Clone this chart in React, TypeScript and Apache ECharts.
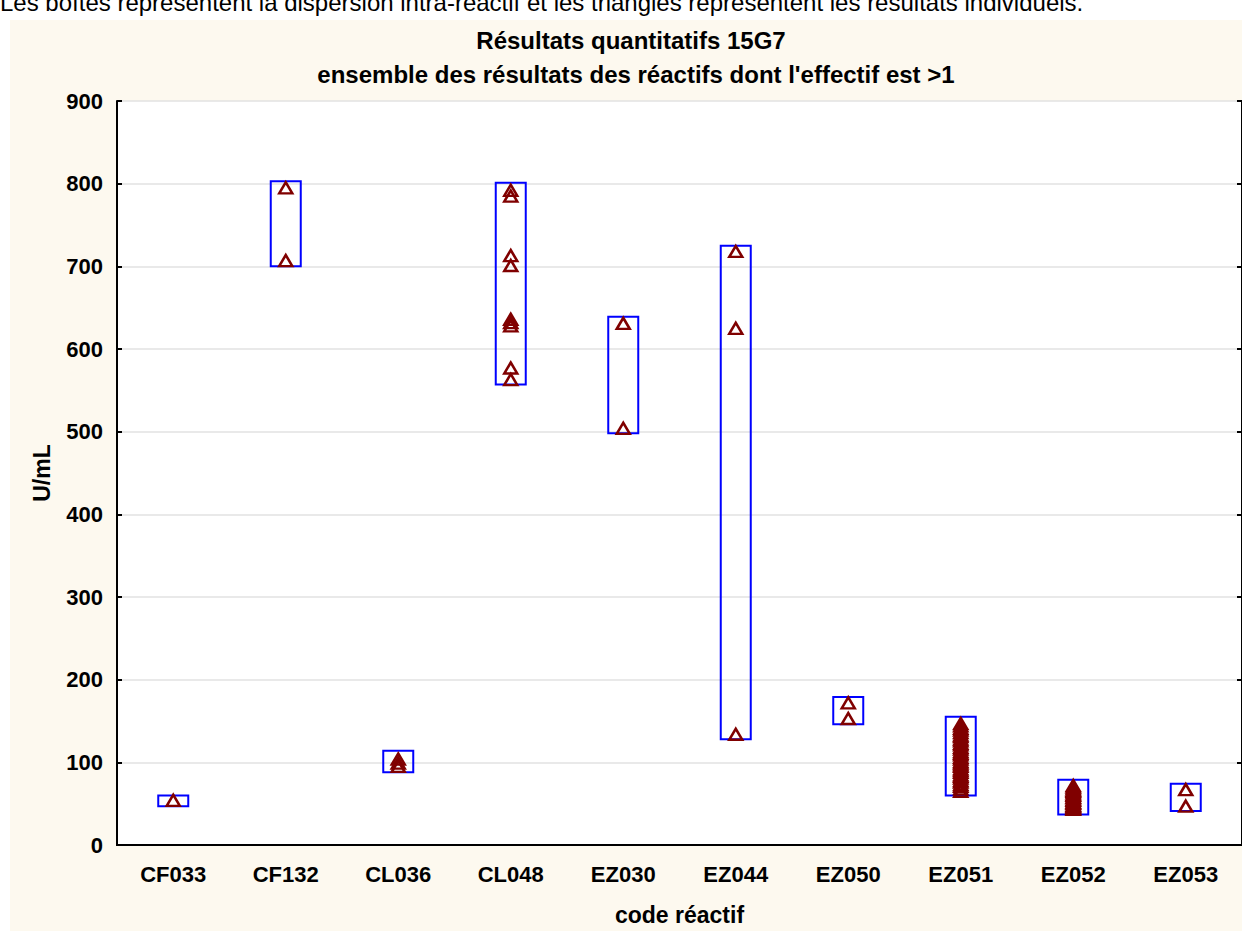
import React, { useEffect, useRef } from "react";
import * as echarts from "echarts";

const categories = ["CF033", "CF132", "CL036", "CL048", "EZ030", "EZ044", "EZ050", "EZ051", "EZ052", "EZ053"];
const yTicks = { min: 0, max: 900, interval: 100 };

// box (dispersion intra-réactif): low / high per category
const boxLow = [47, 700, 88, 557, 498, 128, 146, 60, 37, 41];
const boxHigh = [60, 803, 114, 801, 639, 725, 179, 155, 79, 74];

// individual results
const ptsCF033 = [54];
const ptsCF132 = [795, 707];
const ptsCL036 = [104, 99, 95];
const ptsCL048 = [792, 785, 713, 701, 636, 632, 628, 577, 563];
const ptsEZ030 = [631, 504];
const ptsEZ044 = [718, 625, 134];
const ptsEZ050 = [172, 153];
const ptsEZ051 = [147, 144, 141, 139, 136, 133, 131, 128, 126, 123, 121, 118, 116, 113, 111, 109, 106, 104, 101, 99, 97, 95, 92, 90, 88, 85, 83, 81, 78, 76, 73, 71, 68, 65];
const ptsEZ052 = [72, 70, 68, 66, 65, 63, 61, 60, 58, 57, 55, 54, 52, 51, 50, 48, 47, 46, 45, 44, 43];
const ptsEZ053 = [67, 47];

const allPoints = [ptsCF033, ptsCF132, ptsCL036, ptsCL048, ptsEZ030, ptsEZ044, ptsEZ050, ptsEZ051, ptsEZ052, ptsEZ053];

const titleLine1 = "Résultats quantitatifs 15G7";
const titleLine2 = "ensemble des résultats des réactifs dont l'effectif est >1";
const topNote = "Les boîtes représentent la dispersion intra-réactif et les triangles représentent les résultats individuels.";

const FONT = "'Liberation Sans', Arial, Helvetica, sans-serif";

export default function App() {
  const ref = useRef<HTMLDivElement>(null);
  useEffect(() => {
    if (!ref.current) return;
    const chart = echarts.init(ref.current, null, { renderer: "svg" });
    const boxData = categories.map((c, i) => [i, boxLow[i], boxHigh[i]]);
    const scatterData: any[] = [];
    allPoints.forEach((arr, i) => arr.forEach((v) => scatterData.push([categories[i], v])));

    const option: any = {
      animation: false,
      backgroundColor: "#fdf9ef",
      textStyle: { fontFamily: FONT },
      graphic: [
        { type: "rect", shape: { x: 0, y: 0, width: 1242, height: 20 }, style: { fill: "#ffffff" }, silent: true },
        { type: "rect", shape: { x: 0, y: 0, width: 10, height: 931 }, style: { fill: "#ffffff" }, silent: true },
        { type: "text", x: 0, y: 14, style: { text: topNote, font: `24px ${FONT}`, fill: "#000", align: "left", verticalAlign: "bottom" } },
        { type: "text", x: 631, y: 40, style: { text: titleLine1, font: `bold 24px ${FONT}`, fill: "#000", align: "center", verticalAlign: "middle" } },
        { type: "text", x: 636, y: 74, style: { text: titleLine2, font: `bold 24px ${FONT}`, fill: "#000", align: "center", verticalAlign: "middle" } },
      ],
      grid: {
        left: 117,
        top: 101,
        width: 1130,
        bottom: 83,
        show: true,
        backgroundColor: "#ffffff",
        borderWidth: 0,
      },
      xAxis: [
        {
          type: "category",
          data: categories,
          position: "bottom",
          boundaryGap: true,
          axisLine: { lineStyle: { color: "#000", width: 2 } },
          axisTick: { inside: true, alignWithLabel: true, length: 6, lineStyle: { color: "#000", width: 2 } },
          axisLabel: { color: "#000", fontWeight: "bold", fontSize: 22, fontFamily: FONT, margin: 18 },
          splitLine: { show: false },
          name: "code réactif",
          nameLocation: "middle",
          nameGap: 58,
          nameTextStyle: { color: "#000", fontWeight: "bold", fontSize: 23, fontFamily: FONT },
        },
        {
          type: "category",
          data: categories,
          position: "top",
          boundaryGap: true,
          axisLine: { lineStyle: { color: "#000", width: 2 } },
          axisTick: { inside: true, alignWithLabel: true, length: 6, lineStyle: { color: "#000", width: 2 } },
          axisLabel: { show: false },
          splitLine: { show: false },
        },
      ],
      yAxis: [
        {
          type: "value",
          min: yTicks.min,
          max: yTicks.max,
          interval: yTicks.interval,
          axisLine: { show: true, lineStyle: { color: "#000", width: 2 } },
          axisTick: { show: true, inside: true, length: 5, lineStyle: { color: "#000", width: 2 } },
          axisLabel: { color: "#000", fontWeight: "bold", fontSize: 22, fontFamily: FONT, margin: 14 },
          splitLine: { show: true, lineStyle: { color: "#e2e2e2", width: 1.5 } },
          name: "U/mL",
          nameLocation: "middle",
          nameGap: 64,
          nameRotate: 90,
          nameTextStyle: { color: "#000", fontWeight: "bold", fontSize: 23, fontFamily: FONT },
        },
        {
          type: "value",
          position: "right",
          min: yTicks.min,
          max: yTicks.max,
          interval: yTicks.interval,
          axisLine: { show: true, lineStyle: { color: "#000", width: 2 } },
          axisTick: { show: true, inside: true, length: 5, lineStyle: { color: "#000", width: 2 } },
          axisLabel: { show: false },
          splitLine: { show: false },
        },
      ],
      series: [
        {
          type: "custom",
          xAxisIndex: 0,
          yAxisIndex: 0,
          data: boxData,
          z: 2,
          renderItem: (params: any, api: any) => {
            const idx = api.value(0);
            const lo = api.coord([idx, api.value(1)]);
            const hi = api.coord([idx, api.value(2)]);
            const half = 15;
            return {
              type: "rect",
              shape: { x: lo[0] - half, y: hi[1], width: half * 2, height: lo[1] - hi[1] },
              style: { fill: "none", stroke: "#0000ff", lineWidth: 2 },
            };
          },
        },
        {
          type: "scatter",
          xAxisIndex: 0,
          yAxisIndex: 0,
          data: scatterData,
          symbol: "triangle",
          symbolSize: [13, 11],
          z: 3,
          itemStyle: { color: "rgba(0,0,0,0)", borderColor: "#800000", borderWidth: 2.5, opacity: 1 },
        },
      ],
    };
    chart.setOption(option);
    return () => chart.dispose();
  }, []);
  return <div ref={ref} style={{ position: "absolute", left: 0, top: 0, width: 1242, height: 931 }} />;
}
